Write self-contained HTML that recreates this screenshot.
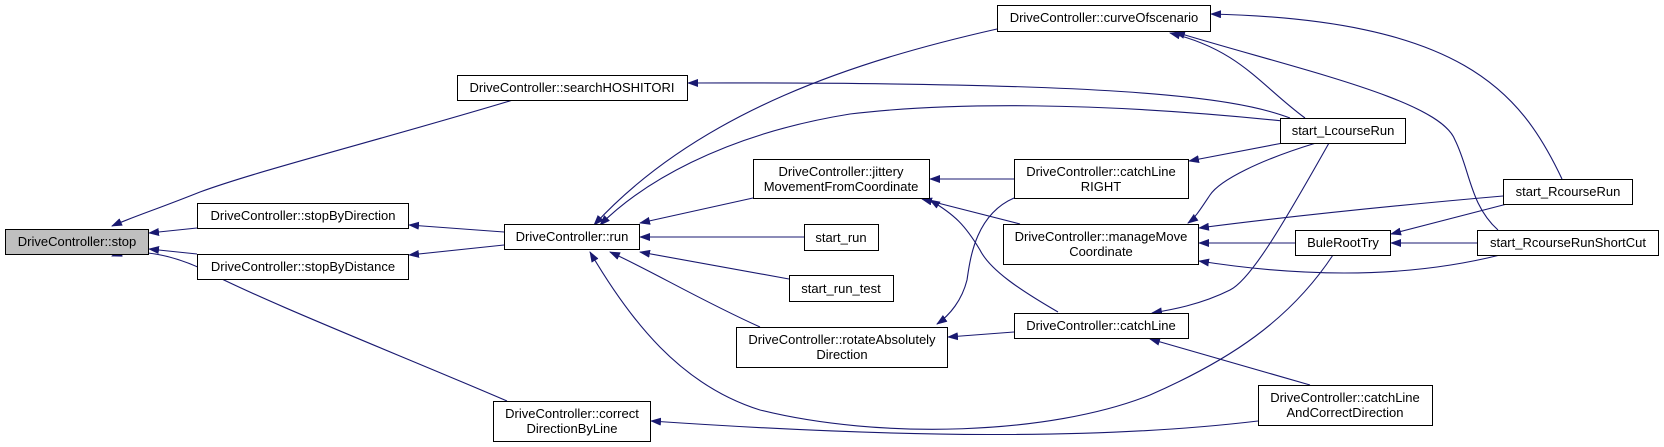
<!DOCTYPE html>
<html><head><meta charset="utf-8"><style>
html,body{margin:0;padding:0;background:#fff;}
svg{display:block;}
text{font-family:"Liberation Sans",sans-serif;font-size:13px;fill:#000;}
</style></head><body>
<svg width="1664" height="447" viewBox="0 0 1664 447" xmlns="http://www.w3.org/2000/svg">
<defs>
<marker id="a" markerWidth="11" markerHeight="8" refX="10" refY="4" orient="auto" markerUnits="userSpaceOnUse">
<path d="M0,0 L11,4 L0,8 Z" fill="#191970"/>
</marker>
</defs>
<g fill="none" stroke="#191970" stroke-width="1.1" marker-end="url(#a)">
<path d="M513,100 C380,140 260,170 200,192 C160,208 130,218 112,226"/>
<path d="M197,228 L149,233"/>
<path d="M197,254 L149,249"/>
<path d="M507,401 C400,355 260,300 200,268 C160,250 130,250 112,256"/>
<path d="M504,232 L409,225"/>
<path d="M504,245 L409,255"/>
<path d="M1258,421 C1100,440 900,438 651,421"/>
<path d="M997,29 C860,60 700,110 594,225"/>
<path d="M1283,121 C1100,102 950,102 850,114 C720,135 640,185 600,225"/>
<path d="M753,198 L640,223"/>
<path d="M804,237 L640,237"/>
<path d="M789,279 L640,252"/>
<path d="M760,327 C700,300 650,270 610,252"/>
<path d="M1333,255 C1290,320 1230,360 1150,395 C1050,435 880,440 760,410 C680,385 630,320 590,252"/>
<path d="M1290,118 C1230,95 1100,82 688,83"/>
<path d="M1305,118 C1260,85 1240,50 1170,33"/>
<path d="M1562,179 C1520,90 1460,20 1211,14"/>
<path d="M1498,230 C1470,205 1470,170 1455,140 C1440,100 1300,70 1175,32"/>
<path d="M1014,179 L930,179"/>
<path d="M1020,224 L922,199"/>
<path d="M1058,312 C1020,290 990,270 980,250 C965,225 955,215 930,200"/>
<path d="M1014,198 C975,215 970,260 967,280 C962,300 950,315 937,324"/>
<path d="M1014,332 L948,337"/>
<path d="M1283,143 L1189,161"/>
<path d="M1316,143 C1260,160 1220,180 1210,195 C1200,210 1195,218 1188,223"/>
<path d="M1503,196 C1400,205 1300,215 1199,228"/>
<path d="M1295,243 L1199,243"/>
<path d="M1500,255 C1420,275 1320,280 1199,261"/>
<path d="M1329,143 C1280,230 1250,280 1230,290 C1200,305 1170,310 1152,313"/>
<path d="M1310,385 L1150,339"/>
<path d="M1507,204 L1391,234"/>
<path d="M1477,243 L1391,243"/>
</g>
<g stroke="#000" stroke-width="1" fill="#fff">
<rect x="5.5" y="229.5" width="143" height="25" fill="#bfbfbf"/>
<rect x="457.5" y="75.5" width="230" height="25"/>
<rect x="197.5" y="203.5" width="211" height="25"/>
<rect x="197.5" y="254.5" width="211" height="25"/>
<rect x="504.5" y="224.5" width="135" height="25"/>
<rect x="493.5" y="401.5" width="157" height="40"/>
<rect x="997.5" y="5.5" width="213" height="26"/>
<rect x="753.5" y="159.5" width="176" height="39"/>
<rect x="1014.5" y="159.5" width="174" height="39"/>
<rect x="804.5" y="224.5" width="74" height="26"/>
<rect x="789.5" y="275.5" width="104" height="26"/>
<rect x="1003.5" y="224.5" width="195" height="40"/>
<rect x="1014.5" y="313.5" width="174" height="25"/>
<rect x="736.5" y="327.5" width="211" height="40"/>
<rect x="1280.5" y="118.5" width="125" height="25"/>
<rect x="1503.5" y="179.5" width="129" height="25"/>
<rect x="1295.5" y="230.5" width="95" height="25"/>
<rect x="1477.5" y="230.5" width="181" height="25"/>
<rect x="1258.5" y="385.5" width="174" height="40"/>
</g>
<g text-anchor="middle">
<text x="77" y="246">DriveController::stop</text>
<text x="572" y="92">DriveController::searchHOSHITORI</text>
<text x="303" y="220">DriveController::stopByDirection</text>
<text x="303" y="271">DriveController::stopByDistance</text>
<text x="572" y="241">DriveController::run</text>
<text x="572" y="418">DriveController::correct</text>
<text x="572" y="433">DirectionByLine</text>
<text x="1104" y="22">DriveController::curveOfscenario</text>
<text x="841" y="176">DriveController::jittery</text>
<text x="841" y="191">MovementFromCoordinate</text>
<text x="1101" y="176">DriveController::catchLine</text>
<text x="1101" y="191">RIGHT</text>
<text x="841" y="242">start_run</text>
<text x="841" y="293">start_run_test</text>
<text x="1101" y="241">DriveController::manageMove</text>
<text x="1101" y="256">Coordinate</text>
<text x="1101" y="330">DriveController::catchLine</text>
<text x="842" y="344">DriveController::rotateAbsolutely</text>
<text x="842" y="359">Direction</text>
<text x="1343" y="135">start_LcourseRun</text>
<text x="1568" y="196">start_RcourseRun</text>
<text x="1343" y="247">BuleRootTry</text>
<text x="1568" y="247">start_RcourseRunShortCut</text>
<text x="1345" y="402">DriveController::catchLine</text>
<text x="1345" y="417">AndCorrectDirection</text>
</g>
</svg>
</body></html>
